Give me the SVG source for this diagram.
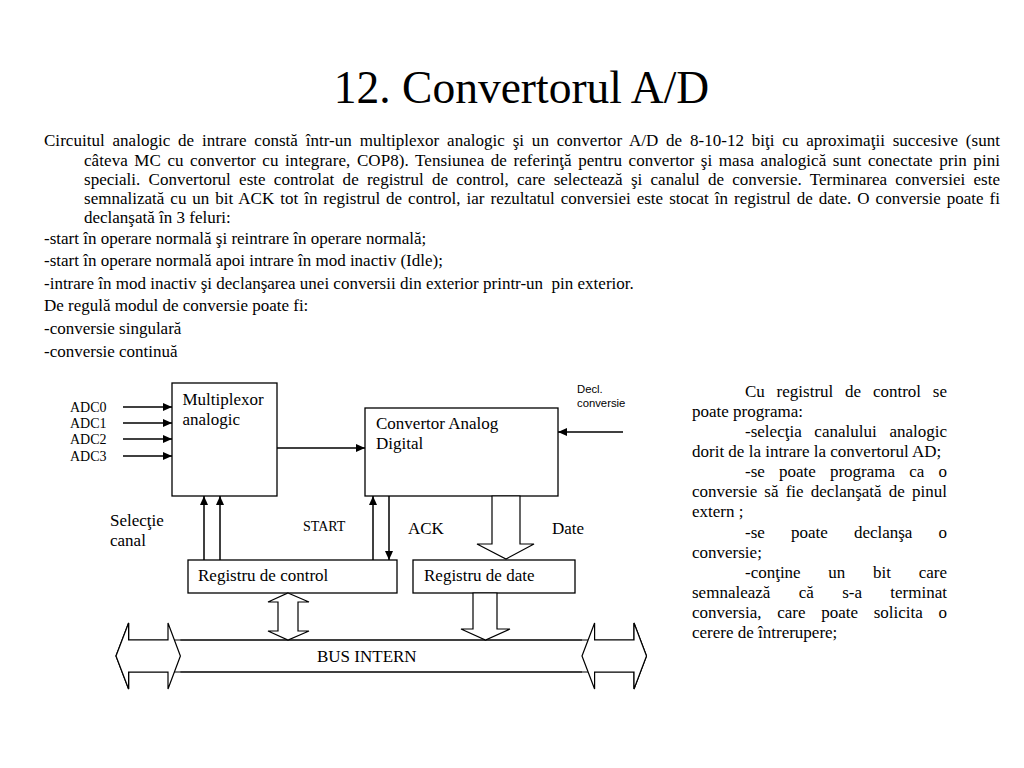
<svg xmlns="http://www.w3.org/2000/svg" width="1024" height="768" viewBox="0 0 1024 768">
<defs>
<style>
.t{font-family:"Liberation Serif","Times New Roman",serif;font-size:17px;fill:#000}
.s{font-family:"Liberation Serif","Times New Roman",serif;font-size:14px;fill:#000}
.a{font-family:"Liberation Sans",Arial,sans-serif;font-size:11.3px;fill:#000}
.box{fill:#fff;stroke:#000;stroke-width:1.3}
.ln{fill:none;stroke:#000;stroke-width:1.5}
.blk{fill:#fff;stroke:#000;stroke-width:1.2;stroke-linejoin:miter}
</style>
<marker id="ah" markerUnits="userSpaceOnUse" markerWidth="9" markerHeight="8" refX="9" refY="4" orient="auto">
<path d="M0,0 L9,4 L0,8 z" fill="#000"/>
</marker>
</defs>
<rect width="1024" height="768" fill="#fff"/>

<text x="521.5" y="103" text-anchor="middle" style="font-family:'Liberation Serif','Times New Roman',serif;font-size:45.5px">12. Convertorul A/D</text>

<g id="body-text">
<text class="t" x="44" y="146" textLength="956" lengthAdjust="spacing" word-spacing="3.5">Circuitul analogic de intrare constă într-un multiplexor analogic şi un convertor A/D de 8-10-12 biţi cu aproximaţii succesive (sunt</text>
<text class="t" x="84" y="165.5" textLength="916" lengthAdjust="spacing" word-spacing="2.2">câteva MC cu convertor cu integrare, COP8). Tensiunea de referinţă pentru convertor şi masa analogică sunt conectate prin pini</text>
<text class="t" x="84" y="185" textLength="916" lengthAdjust="spacing" word-spacing="4">speciali. Convertorul este controlat de registrul de control, care selectează şi canalul de conversie. Terminarea conversiei este</text>
<text class="t" x="84" y="204.3" textLength="916" lengthAdjust="spacing" word-spacing="1.7">semnalizată cu un bit ACK tot în registrul de control, iar rezultatul conversiei este stocat în registrul de date. O conversie poate fi</text>
<text class="t" x="84" y="223">declanşată în 3 feluri:</text>
<text class="t" x="44" y="243.6">-start în operare normală şi reintrare în operare normală;</text>
<text class="t" x="44" y="266.2">-start în operare normală apoi intrare în mod inactiv (Idle);</text>
<text class="t" x="44" y="288.8" xml:space="preserve">-intrare în mod inactiv şi declanşarea unei conversii din exterior printr-un  pin exterior.</text>
<text class="t" x="44" y="311.4">De regulă modul de conversie poate fi:</text>
<text class="t" x="44" y="334">-conversie singulară</text>
<text class="t" x="44" y="356.6">-conversie continuă</text>
</g>

<g id="side-text">
<text class="t" x="745" y="396.5" textLength="202" lengthAdjust="spacing" word-spacing="7.5">Cu registrul de control se</text>
<text class="t" x="692" y="416.6">poate programa:</text>
<text class="t" x="745" y="436.8" textLength="202" lengthAdjust="spacing" word-spacing="8.4">-selecţia canalului analogic</text>
<text class="t" x="692" y="456.9">dorit de la intrare la convertorul AD;</text>
<text class="t" x="745" y="477.1" textLength="202" lengthAdjust="spacing" word-spacing="9.9">-se poate programa ca o</text>
<text class="t" x="692" y="497.2" textLength="255" lengthAdjust="spacing" word-spacing="2.9">conversie să fie declanşată de pinul</text>
<text class="t" x="692" y="517.4">extern ;</text>
<text class="t" x="745" y="537.5" textLength="202" lengthAdjust="spacing" word-spacing="21.9">-se poate declanşa o</text>
<text class="t" x="692" y="557.7">conversie;</text>
<text class="t" x="745" y="577.8" textLength="202" lengthAdjust="spacing" word-spacing="23.5">-conţine un bit care</text>
<text class="t" x="692" y="598" textLength="255" lengthAdjust="spacing" word-spacing="24.1">semnalează că s-a terminat</text>
<text class="t" x="692" y="618.1" textLength="255" lengthAdjust="spacing" word-spacing="11.4">conversia, care poate solicita o</text>
<text class="t" x="692" y="638.3">cerere de întrerupere;</text>
</g>

<g id="bus">
<polygon class="blk" points="116,656 128.6,623 128.6,640 634,640 634,623 646.5,656 634,689 634,672 128.6,672 128.6,689"/>
<polygon class="blk" points="116,656 128.6,623 128.6,640 168,640 168,623 180.4,656 168,689 168,672 128.6,672 128.6,689"/>
<polygon class="blk" points="582,656 594.6,623 594.6,640 634,640 634,623 646.5,656 634,689 634,672 594.6,672 594.6,689"/>
<line x1="180.4" y1="640" x2="582" y2="640" stroke="#000" stroke-width="1.2"/>
<line x1="180.4" y1="672" x2="582" y2="672" stroke="#000" stroke-width="1.2"/>
<text class="t" x="317" y="662">BUS INTERN</text>
</g>

<g id="mux">
<rect class="box" x="172" y="383" width="105" height="113"/>
<text class="t" x="182.5" y="405">Multiplexor</text>
<text class="t" x="182.5" y="425">analogic</text>
</g>

<g id="conv">
<rect class="box" x="365" y="408" width="193" height="88"/>
<text class="t" x="376" y="429">Convertor Analog</text>
<text class="t" x="376" y="449">Digital</text>
</g>

<g id="regctrl">
<rect class="box" x="188" y="560" width="209" height="33"/>
<text class="t" x="198" y="581">Registru de control</text>
</g>

<g id="regdate">
<rect class="box" x="413" y="560" width="162" height="33"/>
<text class="t" x="424" y="581">Registru de date</text>
</g>

<g id="connectors">
<line class="ln" x1="123" y1="407" x2="172" y2="407" marker-end="url(#ah)"/>
<line class="ln" x1="123" y1="423" x2="172" y2="423" marker-end="url(#ah)"/>
<line class="ln" x1="123" y1="439" x2="172" y2="439" marker-end="url(#ah)"/>
<line class="ln" x1="123" y1="456" x2="172" y2="456" marker-end="url(#ah)"/>
<line class="ln" x1="277" y1="448" x2="365" y2="448" marker-end="url(#ah)"/>
<line class="ln" x1="623" y1="432" x2="558" y2="432" marker-end="url(#ah)"/>
<line class="ln" x1="204" y1="560" x2="204" y2="496" marker-end="url(#ah)"/>
<line class="ln" x1="220" y1="560" x2="220" y2="496" marker-end="url(#ah)"/>
<line class="ln" x1="373" y1="560" x2="373" y2="496" marker-end="url(#ah)"/>
<line class="ln" x1="389" y1="496" x2="389" y2="560" marker-end="url(#ah)"/>
<polygon class="blk" points="492,496 520,496 520,544 534,544 506,559 477,544 492,544"/>
<polygon class="blk" points="288,593 309,602 298,602 298,631 309,631 288,640 268,631 278,631 278,602 268,602"/>
<polygon class="blk" points="473,593 497,593 497,629 510,629 485.5,640 461,629 473,629"/>
<text class="s" x="70" y="412">ADC0</text>
<text class="s" x="70" y="428">ADC1</text>
<text class="s" x="70" y="444">ADC2</text>
<text class="s" x="70" y="461">ADC3</text>
<text class="a" x="577" y="393">Decl.</text>
<text class="a" x="577" y="406.5">conversie</text>
<text class="t" x="110" y="526">Selecţie</text>
<text class="t" x="110" y="546">canal</text>
<text class="s" x="303" y="531">START</text>
<text class="t" x="408" y="534">ACK</text>
<text class="t" x="552" y="534">Date</text>
</g>
</svg>
